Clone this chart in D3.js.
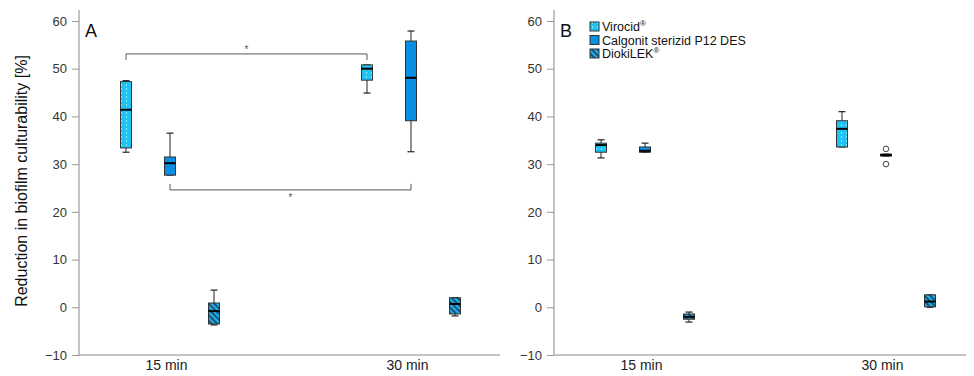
<!DOCTYPE html>
<meta charset="utf-8">
<script src="https://d3js.org/d3.v7.min.js"></script>
<style>
  body { margin: 0; background: #fff; }
  text { font-family: "Liberation Sans", Arial, sans-serif; }
</style>
<div id="chart"></div>
<script>
// categories
var times = ["15 min", "30 min"];
var products = ["Virocid", "Calgonit sterizid P12 DES", "DiokiLEK"];
var yTicks = [-10, 0, 10, 20, 30, 40, 50, 60];

// box stats per time x product: [min, q1, median, q3, max]
var panelA = [
  [[32.5, 33.4, 41.4, 47.3, 47.5], [27.7, 27.7, 30.2, 31.5, 36.5], [-3.7, -3.5, -0.8, 0.9, 3.6]],
  [[44.9, 47.6, 50.0, 50.8, 50.8], [32.6, 39.1, 48.1, 55.8, 57.9], [-1.8, -1.4, 0.7, 2.0, 2.0]]
];
var panelB = [
  [[31.3, 32.5, 34.0, 34.4, 35.1], [32.5, 32.5, 32.8, 33.6, 34.4], [-3.1, -2.5, -2.0, -1.4, -1.0]],
  [[33.6, 33.6, 37.4, 39.1, 41.0], [31.7, 31.7, 31.9, 32.1, 32.1], [0.0, 0.1, 1.2, 2.6, 2.6]]
];
// outliers: [time index, product index, value]
var outliersB = [[1, 1, 33.2], [1, 1, 30.0]];

// significance brackets in panel A: [from time, from product, to time, to product, level]
var bracketsA = [[0, 0, 1, 0, 53.1], [0, 1, 1, 1, 24.6]];

var W = 974, H = 376;
var svg = d3.select("#chart").append("svg")
  .attr("width", W).attr("height", H);

var defs = svg.append("defs");

// Virocid: cyan with dotted vertical lines
var pv = defs.append("pattern").attr("id", "pVir")
  .attr("patternUnits", "userSpaceOnUse").attr("width", 5).attr("height", 4);
pv.append("rect").attr("width", 5).attr("height", 4).attr("fill", "#1ec4f4");
pv.append("rect").attr("x", 2).attr("y", 0).attr("width", 1).attr("height", 2).attr("fill", "#8ee2fa");

// DiokiLEK: diagonal stripes
var pd = defs.append("pattern").attr("id", "pDio")
  .attr("patternUnits", "userSpaceOnUse").attr("width", 4).attr("height", 4)
  .attr("patternTransform", "rotate(-45)");
pd.append("rect").attr("width", 4).attr("height", 4).attr("fill", "#1ab4e6");
pd.append("rect").attr("width", 1.8).attr("height", 4).attr("fill", "#1d4570");

var fills = ["url(#pVir)", "#0a90e2", "url(#pDio)"];
var offsets = [-44, 0, 44];

var y = d3.scaleLinear().domain([-10, 60]).range([355, 21]);

function drawPanel(x0, x1, data, label, outliers, brackets) {
  var g = svg.append("g").attr("transform", "translate(" + x0 + ",0)");
  var x = d3.scalePoint().domain(times).range([91, 332]);

  // y axis
  var ya = g.append("g").call(d3.axisLeft(y).tickValues(yTicks).tickSize(7).tickPadding(5));
  ya.select(".domain").remove();
  ya.selectAll(".tick line").attr("stroke", "#999");
  ya.selectAll(".tick text").attr("font-size", 13).attr("fill", "#333");
  g.append("line").attr("x1", 0).attr("x2", 0).attr("y1", 10).attr("y2", 355)
    .attr("stroke", "#888");

  // x axis
  var xa = g.append("g").attr("transform", "translate(0,355)")
    .call(d3.axisBottom(x).tickSize(0).tickPadding(5));
  xa.select(".domain").remove();
  xa.selectAll(".tick text").attr("font-size", 14).attr("fill", "#222").attr("dx", -4);
  g.append("line").attr("x1", 0).attr("x2", x1 - x0).attr("y1", 355).attr("y2", 355)
    .attr("stroke", "#888");

  g.append("text").attr("x", 6).attr("y", 37).attr("font-size", 18).attr("fill", "#111").text(label);

  // brackets
  (brackets || []).forEach(function(b) {
    var xa1 = x(times[b[0]]) + offsets[b[1]], xb = x(times[b[2]]) + offsets[b[3]];
    var yl = y(b[4]);
    var tip = yl + 6 * (b[1] === 0 ? 1 : -1);
    g.append("path")
      .attr("d", "M" + xa1 + "," + tip + "V" + yl + "H" + xb + "V" + tip)
      .attr("fill", "none").attr("stroke", "#555").attr("stroke-width", 1);
    g.append("text").attr("x", (xa1 + xb) / 2).attr("y", b[1] === 0 ? yl - 1 : yl + 11)
      .attr("text-anchor", "middle").attr("font-size", 10).attr("fill", "#555").text("*");
  });

  data.forEach(function(row, ti) {
    row.forEach(function(s, pi) {
      var cx = x(times[ti]) + offsets[pi];
      var bw = 11;
      var bg = g.append("g");
      bg.append("line").attr("x1", cx).attr("x2", cx).attr("y1", y(s[0])).attr("y2", y(s[4]))
        .attr("stroke", "#222");
      [s[0], s[4]].forEach(function(v) {
        bg.append("line").attr("x1", cx - 3.5).attr("x2", cx + 3.5).attr("y1", y(v)).attr("y2", y(v))
          .attr("stroke", "#222").attr("stroke-width", 1.2);
      });
      bg.append("rect").attr("x", cx - bw / 2).attr("y", y(s[3]))
        .attr("width", bw).attr("height", Math.max(1, y(s[1]) - y(s[3])))
        .attr("fill", fills[pi]).attr("stroke", "#333").attr("stroke-width", 1);
      bg.append("line").attr("x1", cx - bw / 2).attr("x2", cx + bw / 2)
        .attr("y1", y(s[2])).attr("y2", y(s[2]))
        .attr("stroke", "#000").attr("stroke-width", 2);
    });
  });

  (outliers || []).forEach(function(o) {
    g.append("circle").attr("cx", x(times[o[0]]) + offsets[o[1]]).attr("cy", y(o[2]))
      .attr("r", 2.8).attr("fill", "#fff").attr("stroke", "#444");
  });
  return g;
}

drawPanel(79, 500, panelA, "A", null, bracketsA);
var gB = drawPanel(554, 966, panelB, "B", outliersB, null);

// legend
var leg = gB.append("g").attr("transform", "translate(36,22)");
products.forEach(function(p, i) {
  var r = leg.append("g").attr("transform", "translate(0," + (i * 13.5) + ")");
  r.append("rect").attr("width", 9).attr("height", 9).attr("fill", fills[i]).attr("stroke", "#333");
  var t = r.append("text").attr("x", 12).attr("y", 9).attr("font-size", 12.5).attr("fill", "#111").text(p);
  if (i !== 1) t.append("tspan").attr("font-size", 8).attr("dy", -5).text("®");
});

// y label
svg.append("text").attr("transform", "translate(27,181) rotate(-90)")
  .attr("text-anchor", "middle").attr("font-size", 16).attr("fill", "#111")
  .text("Reduction in biofilm culturability [%]");
</script>
